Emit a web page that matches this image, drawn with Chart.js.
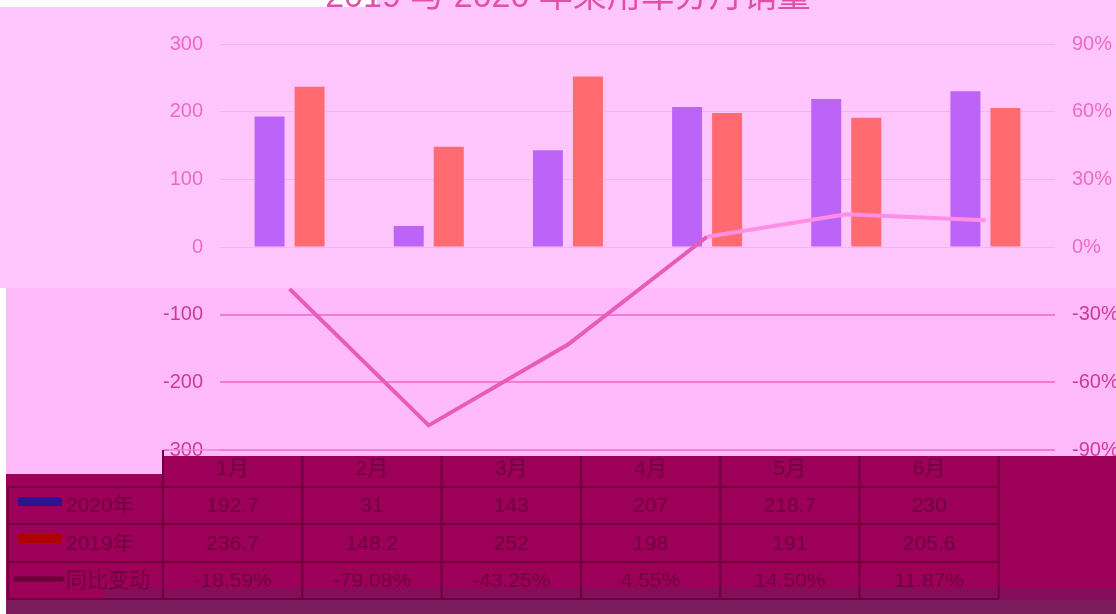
<!DOCTYPE html>
<html>
<head>
<meta charset="utf-8">
<script src="https://cdn.jsdelivr.net/npm/chart.js@4"></script>
<style>
  html, body { margin: 0; padding: 0; background: #ffc6fe; }
  #wrap { position: relative; width: 1116px; height: 614px; }
</style>
</head>
<body>
<div id="wrap"><canvas id="sales-chart" width="1116" height="614"></canvas></div>
<script>
const chartTitle = "2019 与 2020 年乘用车分月销量";
const months = ["1月", "2月", "3月", "4月", "5月", "6月"];
const sales2020 = [192.7, 31, 143, 207, 218.7, 230];
const sales2019 = [236.7, 148.2, 252, 198, 191, 205.6];
const yoyChange = [-18.59, -79.08, -43.25, 4.55, 14.5, 11.87];
const seriesNames = ["2020年", "2019年", "同比变动"];

const FONT = '"Liberation Sans", "Noto Sans CJK SC", sans-serif';
Chart.defaults.font.family = FONT;

// background, glitchy bands and data table box
const backdrop = {
  id: "backdrop",
  beforeDraw(chart) {
    const ctx = chart.ctx;
    ctx.save();
    ctx.fillStyle = "#ffc6fe";
    ctx.fillRect(0, 0, 1116, 614);
    ctx.fillStyle = "#ffffff";
    ctx.fillRect(0, 0, 377, 7);
    ctx.fillStyle = "#ffbafc";
    ctx.fillRect(0, 288, 1116, 170);
    ctx.fillStyle = "#ffffff";
    ctx.fillRect(0, 288, 6, 326);
    // table area
    ctx.fillStyle = "#9c0058";
    ctx.fillRect(6, 456, 1110, 144);
    ctx.fillStyle = "#ffbafc";
    ctx.fillRect(6, 456, 157, 18);
    ctx.fillStyle = "#7c1a5e";
    ctx.fillRect(6, 600, 1110, 14);
    ctx.fillStyle = "rgba(90, 40, 100, 0.35)";
    ctx.fillRect(105, 588, 1011, 12);
    ctx.restore();
  },
  afterDraw(chart) {
    const ctx = chart.ctx;
    ctx.save();
    // title, cut off at the top like the source
    ctx.font = "34px " + FONT;
    ctx.fillStyle = "#e050a8";
    ctx.textAlign = "center";
    ctx.textBaseline = "alphabetic";
    ctx.fillText(chartTitle, 568, 7);

    // data table
    const left = 8, firstW = 155, colW = 139.3;
    const rows = [450, 487, 524, 562, 599];
    const right = left + firstW + colW * months.length;
    ctx.strokeStyle = "#f080d0";
    ctx.lineWidth = 1.5;
    ctx.beginPath();
    ctx.moveTo(left + firstW, rows[0]);
    ctx.lineTo(right, rows[0]);
    ctx.stroke();
    ctx.strokeStyle = "#6e003e";
    ctx.lineWidth = 2;
    ctx.beginPath();
    for (let r = 1; r < rows.length; r++) {
      ctx.moveTo(left, rows[r]);
      ctx.lineTo(right, rows[r]);
    }
    ctx.moveTo(left, rows[1]);
    ctx.lineTo(left, rows[4]);
    for (let c = 0; c <= months.length; c++) {
      const x = left + firstW + colW * c;
      ctx.moveTo(x, c === 0 ? rows[0] : rows[0] + 6);
      ctx.lineTo(x, rows[4]);
    }
    ctx.stroke();

    ctx.font = "21px " + FONT;
    ctx.fillStyle = "#6e0040";
    ctx.textAlign = "center";
    ctx.textBaseline = "middle";
    const rowText = [
      months,
      sales2020.map(String),
      sales2019.map(String),
      yoyChange.map(v => v.toFixed(2) + "%"),
    ];
    rowText.forEach((vals, r) => {
      const y = (rows[r] + rows[r + 1]) / 2 + 1;
      vals.forEach((t, c) => {
        ctx.fillText(t, left + firstW + colW * (c + 0.5), y);
      });
    });

    // legend keys in first column
    ctx.textAlign = "left";
    ctx.fillStyle = "#2c1490";
    ctx.fillRect(18, 497, 44, 9);
    ctx.fillStyle = "#b00000";
    ctx.fillRect(18, 534, 44, 9);
    ctx.strokeStyle = "#6a0035";
    ctx.lineWidth = 5;
    ctx.lineCap = "round";
    ctx.beginPath();
    ctx.moveTo(16, 579);
    ctx.lineTo(62, 579);
    ctx.stroke();
    ctx.fillStyle = "#6e0040";
    seriesNames.forEach((n, i) => {
      ctx.fillText(n, 66, (rows[i + 1] + rows[i + 2]) / 2 + 1);
    });
    ctx.restore();
  },
};

new Chart(document.getElementById("sales-chart"), {
  type: "bar",
  data: {
    labels: months,
    datasets: [
      {
        type: "line",
        label: seriesNames[2],
        data: yoyChange,
        yAxisID: "y1",
        borderColor: "#e85cb8",
        borderWidth: 4,
        pointRadius: 0,
        tension: 0,
        order: 0,
        segment: {
          borderColor: function (ctx) {
            return ctx.p0.parsed.y >= 0 && ctx.p1.parsed.y >= 0 ? "#ff8ee4" : "#e85cb8";
          },
        },
      },
      {
        label: seriesNames[0],
        data: sales2020,
        yAxisID: "y",
        backgroundColor: "#bd64f8",
        barPercentage: 0.75,
        categoryPercentage: 0.575,
        order: 1,
      },
      {
        label: seriesNames[1],
        data: sales2019,
        yAxisID: "y",
        backgroundColor: "#ff6b70",
        barPercentage: 0.75,
        categoryPercentage: 0.575,
        order: 1,
      },
    ],
  },
  options: {
    responsive: false,
    animation: false,
    devicePixelRatio: 1,
    layout: { padding: { top: 44, bottom: 164, left: 0, right: 0 } },
    plugins: {
      legend: { display: false },
      tooltip: { enabled: false },
    },
    scales: {
      x: {
        display: false,
        offset: true,
      },
      y: {
        position: "left",
        min: -300,
        max: 300,
        afterFit: function (scale) {
          scale.width = 220;
        },
        ticks: {
          stepSize: 100,
          padding: 17,
          font: { size: 20 },
          color: function (ctx) {
            return ctx.tick && ctx.tick.value < 0 ? "#cc3c96" : "#ec6cc4";
          },
        },
        grid: {
          drawTicks: false,
          color: function (ctx) {
            return ctx.tick && ctx.tick.value < 0 ? "#f57ad8" : "#f8b2f0";
          },
          lineWidth: function (ctx) {
            return ctx.tick && ctx.tick.value < 0 ? 2 : 1;
          },
        },
        border: { display: false },
      },
      y1: {
        position: "right",
        min: -90,
        max: 90,
        afterFit: function (scale) {
          scale.width = 61;
        },
        ticks: {
          stepSize: 30,
          padding: 17,
          font: { size: 20 },
          color: function (ctx) {
            return ctx.tick && ctx.tick.value < 0 ? "#cc3c96" : "#ec6cc4";
          },
          callback: function (v) {
            return v + "%";
          },
        },
        grid: { drawOnChartArea: false, drawTicks: false },
        border: { display: false },
      },
    },
  },
  plugins: [backdrop],
});
</script>
</body>
</html>
